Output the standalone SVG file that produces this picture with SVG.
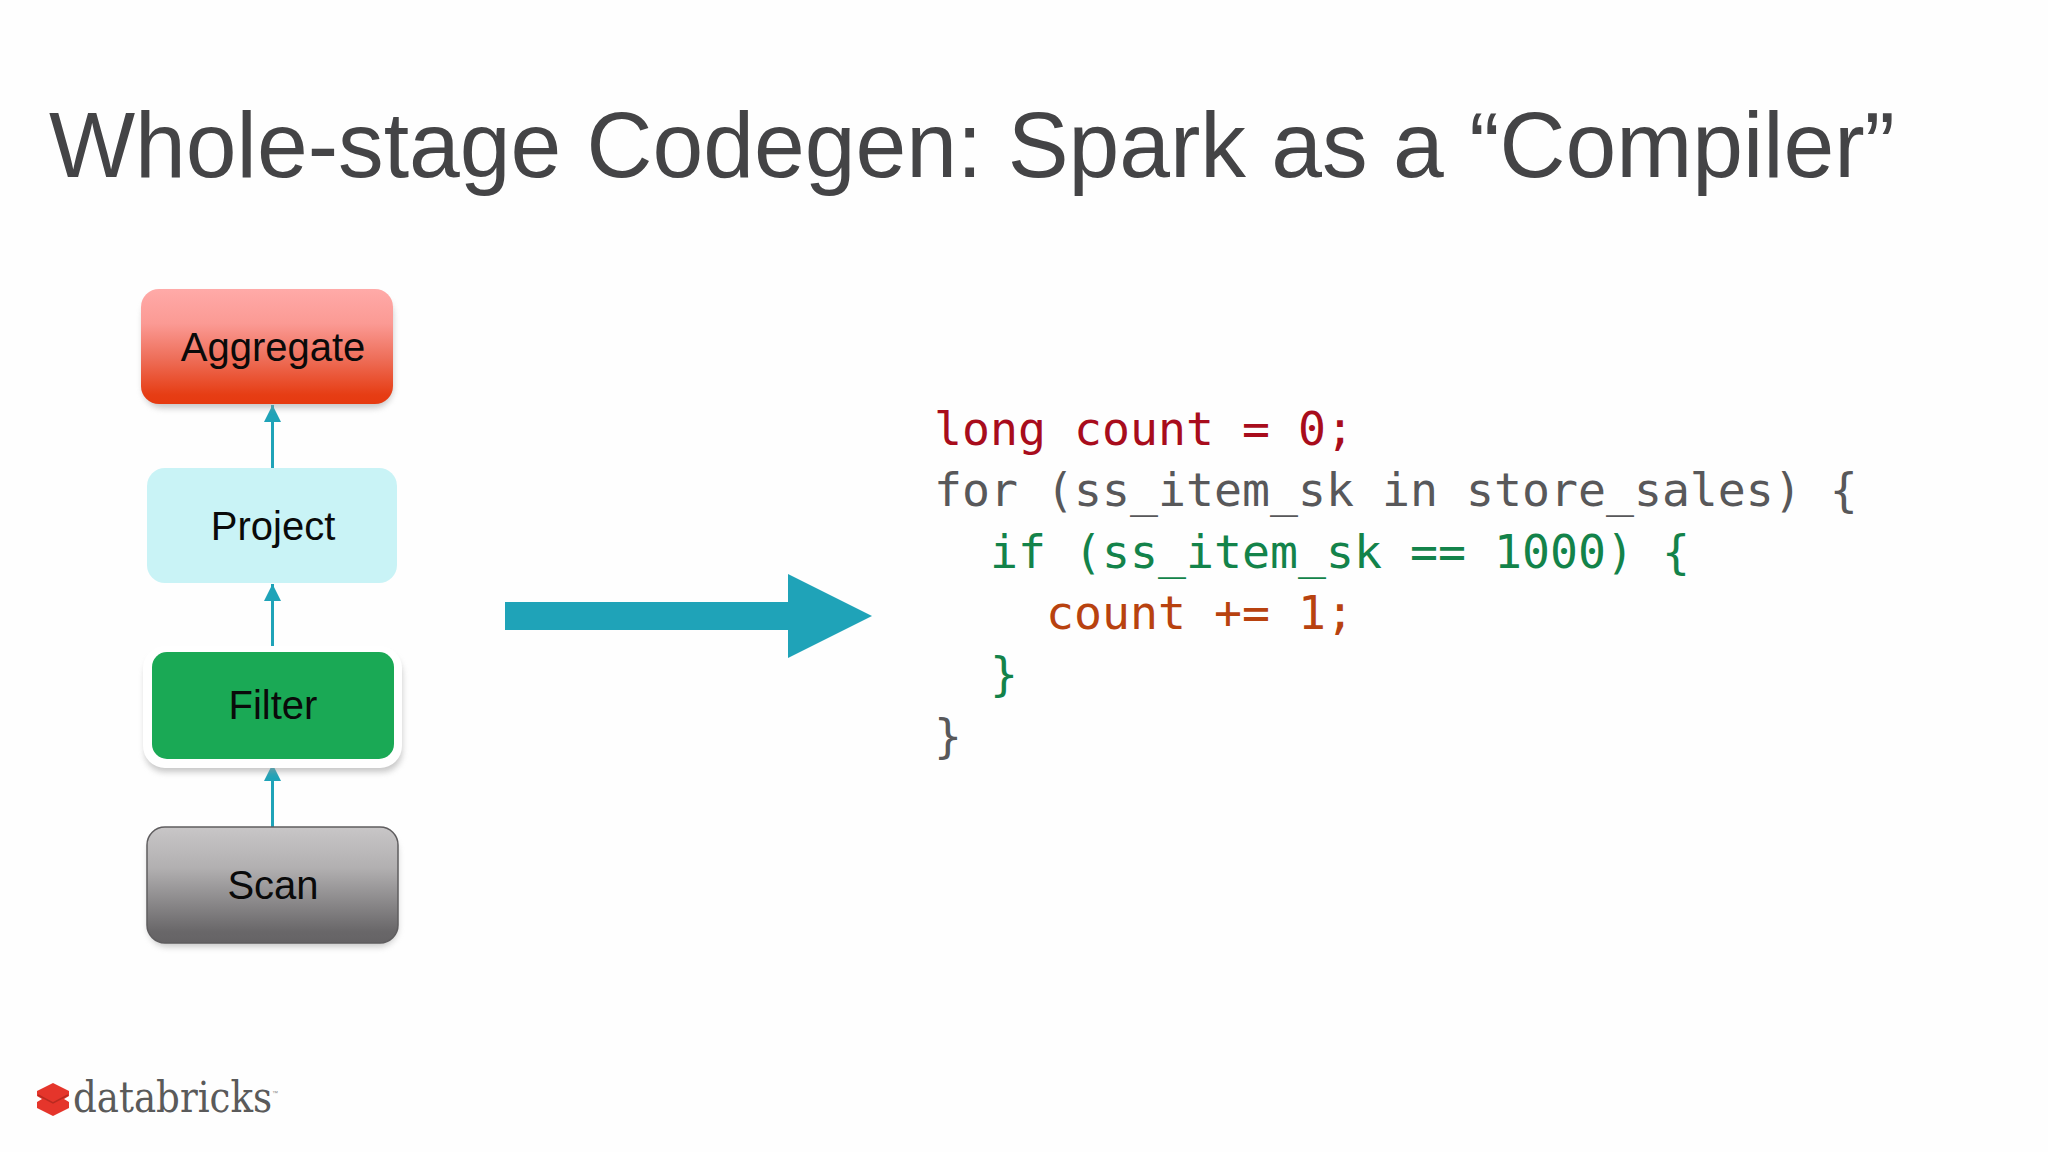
<svg xmlns="http://www.w3.org/2000/svg" width="2048" height="1152" viewBox="0 0 2048 1152">
<style>
.n{font-family:"Liberation Sans",Arial,sans-serif;font-size:40px;fill:#0a0a0a;text-anchor:middle}
.c{font-family:"DejaVu Sans Mono","Liberation Mono",monospace;font-size:46.5px;white-space:pre}
.link{stroke:#1fa3b8;stroke-width:3;fill:none;marker-end:url(#ah)}
</style>
<defs>
<linearGradient id="gr" x1="0" y1="0" x2="0" y2="1"><stop offset="0" stop-color="#ffaaa8"/><stop offset=".3" stop-color="#fb9a94"/><stop offset=".6" stop-color="#ee6f5a"/><stop offset=".92" stop-color="#e63d14"/><stop offset="1" stop-color="#e63a10"/></linearGradient>
<linearGradient id="gg" x1="0" y1="0" x2="0" y2="1"><stop offset="0" stop-color="#c8c6c7"/><stop offset=".35" stop-color="#b2b0b1"/><stop offset=".9" stop-color="#696769"/><stop offset="1" stop-color="#656365"/></linearGradient>
<filter id="sh" x="-10%" y="-20%" width="120%" height="140%"><feGaussianBlur stdDeviation="3"/></filter>
<marker id="ah" markerUnits="userSpaceOnUse" markerWidth="17" markerHeight="17" refX="17" refY="8.5" orient="auto"><path d="M0 0L17 8.5L0 17Z" fill="#1fa3b8"/></marker>
</defs>
<rect width="2048" height="1152" fill="#fefefe"/>
<text x="49" y="177" font-family="Liberation Sans,Arial,sans-serif" font-size="93" fill="#444446" textLength="1846" lengthAdjust="spacingAndGlyphs">Whole-stage Codegen: Spark as a “Compiler”</text>
<g id="connectors">
<path class="link" d="M272.5 468V405"/>
<path class="link" d="M272.5 647V584"/>
<path class="link" d="M272.5 827V764"/>
<path id="big-arrow" d="M505 602H788V574L872 616L788 658V630H505Z" fill="#1fa3b8"/>
</g>
<g id="aggregate">
<rect x="143" y="295" width="250" height="113" rx="20" fill="#999" opacity=".55" filter="url(#sh)"/>
<rect x="141" y="289" width="252" height="115" rx="18" fill="url(#gr)"/>
<text class="n" x="273" y="361">Aggregate</text>
</g>
<g id="project">
<rect x="147" y="468" width="250" height="115" rx="18" fill="#c9f3f6"/>
<text class="n" x="273" y="540">Project</text>
</g>
<g id="filter">
<rect x="145" y="654" width="257" height="118" rx="20" fill="#999" opacity=".55" filter="url(#sh)"/>
<rect x="143" y="646" width="259" height="122" rx="22" fill="#fff"/>
<rect x="152" y="652" width="242" height="107" rx="15" fill="#1aa955"/>
<text class="n" x="273" y="719">Filter</text>
</g>
<g id="scan">
<rect x="148" y="833" width="250" height="114" rx="20" fill="#999" opacity=".5" filter="url(#sh)"/>
<rect x="147" y="827" width="251" height="116" rx="18" fill="url(#gg)" stroke="#5f5d5f" stroke-width="1.5"/>
<text class="n" x="273" y="899">Scan</text>
</g>
<g id="code" class="c">
<text x="934" y="445" fill="#a80c1c" class="c">long count = 0;</text>
<text x="934" y="506" fill="#58585a" class="c">for (ss_item_sk in store_sales) {</text>
<text x="934" y="568" fill="#13834a" class="c">  if (ss_item_sk == 1000) {</text>
<text x="934" y="629" fill="#b8420f" class="c">    count += 1;</text>
<text x="934" y="690" fill="#13834a" class="c">  }</text>
<text x="934" y="752" fill="#58585a" class="c">}</text>
</g>
<g id="logo">
<path d="M53 1083L69 1091V1096L64 1099L69 1102V1108L53 1116L37 1108V1102L42 1099L37 1096V1091Z" fill="#e5352b"/>
<path d="M38 1095L53 1103L68 1095" stroke="#b92a20" stroke-width="1.5" fill="none"/>
<text x="73" y="1112" font-family="DejaVu Serif,Liberation Serif,serif" font-size="43" fill="#5a5a5a" textLength="199" lengthAdjust="spacingAndGlyphs">databricks</text>
<text x="272" y="1095" font-family="Liberation Sans,sans-serif" font-size="6" fill="#888">™</text>
</g>
</svg>
